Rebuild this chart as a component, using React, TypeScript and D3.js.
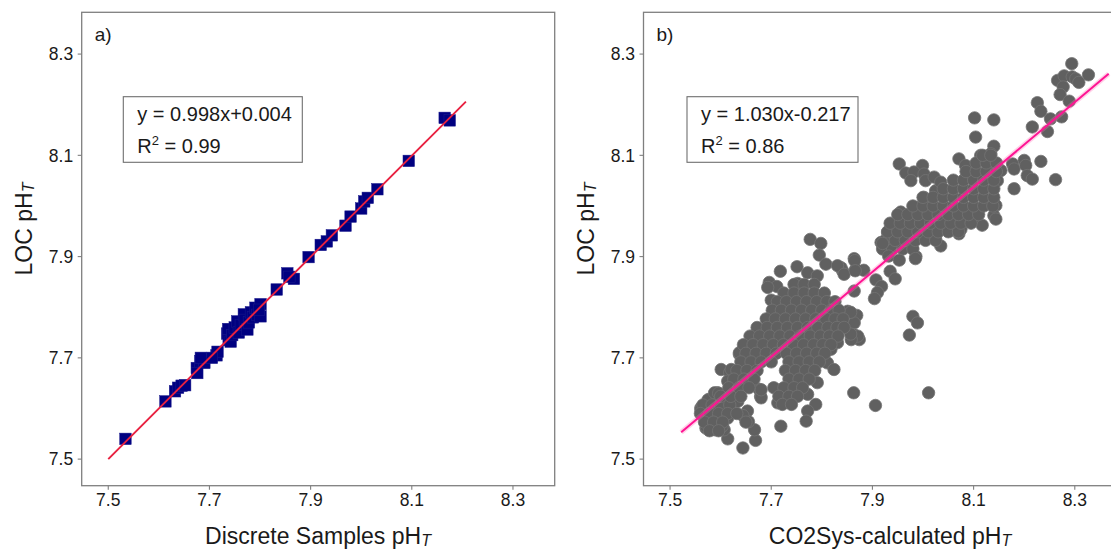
import React from 'react';
import * as d3 from 'd3';

// ---------------- DATA ----------------
const tickValues = [7.5, 7.7, 7.9, 8.1, 8.3];
const yDomain: [number, number] = [7.4475, 8.3825];
const xDomainA: [number, number] = [7.4475, 8.3825];
const xDomainB: [number, number] = [7.4475, 8.42];

const panelLabels = ['a)', 'b)'];
const xTitles = ['Discrete Samples pH', 'CO2Sys-calculated pH'];
const yTitle = 'LOC pH';
const equations = ['y = 0.998x+0.004', 'y = 1.030x-0.217'];
const r2Values = ['0.99', '0.86'];

// Panel a: discrete samples vs LOC pH
const discretePoints: [number, number][] = [
  [7.534, 7.540], [7.613, 7.614], [7.632, 7.634], [7.638, 7.641], [7.645, 7.645], [7.652, 7.646],
  [7.675, 7.680], [7.682, 7.693], [7.690, 7.690], [7.676, 7.670], [7.683, 7.700],
  [7.714, 7.705], [7.716, 7.712], [7.705, 7.700],
  [7.735, 7.748], [7.737, 7.757], [7.738, 7.735], [7.742, 7.732], [7.745, 7.745], [7.750, 7.760],
  [7.755, 7.772], [7.758, 7.750], [7.762, 7.765], [7.768, 7.786], [7.770, 7.775], [7.775, 7.756],
  [7.778, 7.770], [7.782, 7.790], [7.786, 7.780], [7.791, 7.799], [7.795, 7.785], [7.801, 7.806],
  [7.801, 7.782], [7.798, 7.795],
  [7.833, 7.835], [7.854, 7.867], [7.867, 7.856], [7.858, 7.860], [7.896, 7.899],
  [7.920, 7.923], [7.932, 7.930], [7.942, 7.942], [7.969, 7.961], [7.979, 7.979],
  [8.000, 7.995], [8.006, 8.009], [8.013, 8.016], [8.032, 8.033], [8.094, 8.089],
  [8.165, 8.174], [8.175, 8.169],
];

// Panel b: CO2Sys-calculated vs LOC pH
const co2sysPoints: [number, number][] = [
  // top right
  [8.294, 8.281], [8.327, 8.259], [8.266, 8.248], [8.279, 8.257], [8.295, 8.255], [8.302, 8.251],
  [8.308, 8.244], [8.277, 8.235], [8.271, 8.220], [8.289, 8.207], [8.226, 8.204], [8.233, 8.187],
  [8.252, 8.172], [8.274, 8.176], [8.216, 8.156], [8.246, 8.147],
  // around upper cluster
  [8.102, 8.174], [8.140, 8.170], [8.104, 8.136], [8.140, 8.118],
  [7.953, 8.083], [7.999, 8.080], [7.966, 8.065], [7.982, 8.067], [7.976, 8.050], [8.002, 8.063],
  [8.005, 8.050], [8.022, 8.057], [8.025, 8.030], [8.035, 8.047], [8.071, 8.093], [8.084, 8.080],
  [8.114, 8.100], [8.134, 8.103], [8.144, 8.083], [8.154, 8.070], [8.147, 8.050], [8.177, 8.083],
  [8.180, 8.073], [8.200, 8.090], [8.203, 8.080], [8.206, 8.060], [8.216, 8.053], [8.233, 8.088],
  [8.262, 8.052], [8.180, 8.034], [8.144, 8.001], [8.140, 7.981], [8.144, 7.974], [8.117, 7.962],
  [8.098, 7.974], [8.075, 7.954], [8.071, 7.945], [8.035, 7.921], [8.025, 7.935], [7.986, 7.900],
  [7.943, 7.964], [7.930, 7.948], [7.917, 7.928], [7.956, 7.988], [8.002, 8.017], [7.986, 7.997],
  // upper cluster body
  [7.920, 7.915], [7.940, 7.915], [7.960, 7.915], [7.980, 7.915],
  [7.925, 7.932], [7.945, 7.932], [7.965, 7.932], [7.985, 7.932], [8.005, 7.932], [8.025, 7.932],
  [7.930, 7.949], [7.950, 7.949], [7.970, 7.949], [7.990, 7.949], [8.010, 7.949], [8.030, 7.949], [8.050, 7.949], [8.070, 7.949],
  [7.935, 7.966], [7.955, 7.966], [7.975, 7.966], [7.995, 7.966], [8.015, 7.966], [8.035, 7.966], [8.055, 7.966], [8.075, 7.966], [8.095, 7.966],
  [7.950, 7.983], [7.970, 7.983], [7.990, 7.983], [8.010, 7.983], [8.030, 7.983], [8.050, 7.983], [8.070, 7.983], [8.090, 7.983], [8.110, 7.983],
  [7.980, 8.000], [8.000, 8.000], [8.020, 8.000], [8.040, 8.000], [8.060, 8.000], [8.080, 8.000], [8.100, 8.000], [8.120, 8.000], [8.138, 8.000],
  [8.000, 8.017], [8.020, 8.017], [8.040, 8.017], [8.060, 8.017], [8.080, 8.017], [8.100, 8.017], [8.120, 8.017], [8.140, 8.017],
  [8.040, 8.034], [8.060, 8.034], [8.080, 8.034], [8.100, 8.034], [8.120, 8.034], [8.140, 8.034],
  [8.060, 8.051], [8.080, 8.051], [8.100, 8.051], [8.120, 8.051], [8.140, 8.051],
  [8.085, 8.068], [8.105, 8.068], [8.125, 8.068], [8.145, 8.068],
  [8.105, 8.085], [8.125, 8.085], [8.145, 8.085],
  [8.118, 8.100], [8.134, 8.100],
  // middle, between clusters
  [7.920, 7.926], [7.864, 7.896], [7.867, 7.875], [7.883, 7.873], [7.932, 7.901], [7.953, 7.893],
  [7.935, 7.871], [7.945, 7.856], [7.985, 7.896], [7.907, 7.854], [7.918, 7.841], [7.910, 7.829],
  [7.904, 7.817], [7.864, 7.832], [7.851, 7.792], [7.869, 7.784], [7.864, 7.769], [7.863, 7.746],
  [7.874, 7.736], [7.841, 7.872],
  // outliers
  [7.980, 7.782], [7.989, 7.769], [7.973, 7.745], [7.863, 7.631], [7.906, 7.606], [8.011, 7.631],
  // around main cluster
  [7.777, 7.934], [7.798, 7.926], [7.795, 7.903], [7.808, 7.885], [7.751, 7.880], [7.718, 7.871],
  [7.772, 7.868], [7.838, 7.878], [7.696, 7.849], [7.711, 7.841], [7.693, 7.839], [7.752, 7.847],
  [7.700, 7.814], [7.739, 7.822], [7.871, 7.743], [7.858, 7.736], [7.831, 7.882], [7.844, 7.865],
  [7.791, 7.862], [7.865, 7.892], [7.866, 7.872], [7.857, 7.790], [7.857, 7.747],
  [7.673, 7.753], [7.637, 7.707], [7.653, 7.720], [7.601, 7.677], [7.618, 7.671], [7.676, 7.638],
  [7.679, 7.624], [7.713, 7.611], [7.732, 7.624], [7.772, 7.628], [7.788, 7.608], [7.772, 7.595],
  [7.768, 7.667], [7.791, 7.651], [7.811, 7.690], [7.824, 7.677], [7.818, 7.717], [7.831, 7.730],
  [7.653, 7.595], [7.561, 7.601], [7.577, 7.618], [7.594, 7.631], [7.614, 7.624], [7.769, 7.575],
  // lower-left cluster
  [7.644, 7.522], [7.669, 7.537], [7.667, 7.558], [7.655, 7.574], [7.644, 7.586], [7.614, 7.540],
  [7.607, 7.558], [7.571, 7.561], [7.588, 7.558], [7.561, 7.598], [7.575, 7.617], [7.588, 7.631],
  [7.614, 7.581], [7.598, 7.578], [7.581, 7.584], [7.719, 7.565], [7.680, 7.621], [7.680, 7.637],
  [7.621, 7.650], [7.621, 7.677], [7.637, 7.710], [7.655, 7.720], [7.640, 7.677], [7.647, 7.657],
  [7.630, 7.631], [7.634, 7.614], [7.611, 7.614], [7.601, 7.598], [7.596, 7.630], [7.614, 7.654],
  [7.572, 7.563], [7.593, 7.561], [7.603, 7.565],
  [7.565, 7.607], [7.583, 7.607], [7.600, 7.607], [7.618, 7.607],
  [7.560, 7.590], [7.578, 7.590], [7.596, 7.590], [7.614, 7.590], [7.632, 7.590],
  [7.568, 7.573], [7.586, 7.573], [7.604, 7.573], [7.650, 7.573],
  [7.578, 7.556], [7.596, 7.556],
  // main cluster body
  [7.745, 7.845], [7.765, 7.845], [7.785, 7.845],
  [7.725, 7.828], [7.745, 7.828], [7.765, 7.828], [7.785, 7.828], [7.805, 7.828],
  [7.712, 7.811], [7.730, 7.811], [7.750, 7.811], [7.770, 7.811], [7.790, 7.811], [7.810, 7.811], [7.826, 7.811],
  [7.702, 7.794], [7.720, 7.794], [7.740, 7.794], [7.760, 7.794], [7.780, 7.794], [7.800, 7.794], [7.818, 7.794], [7.834, 7.794],
  [7.690, 7.777], [7.708, 7.777], [7.728, 7.777], [7.748, 7.777], [7.768, 7.777], [7.788, 7.777], [7.808, 7.777], [7.826, 7.777], [7.842, 7.777],
  [7.672, 7.760], [7.692, 7.760], [7.712, 7.760], [7.732, 7.760], [7.752, 7.760], [7.772, 7.760], [7.792, 7.760], [7.812, 7.760], [7.830, 7.760], [7.844, 7.760],
  [7.658, 7.743], [7.677, 7.743], [7.697, 7.743], [7.717, 7.743], [7.737, 7.743], [7.757, 7.743], [7.777, 7.743], [7.797, 7.743], [7.815, 7.743], [7.832, 7.743],
  [7.645, 7.726], [7.664, 7.726], [7.684, 7.726], [7.704, 7.726], [7.724, 7.726], [7.744, 7.726], [7.764, 7.726], [7.784, 7.726], [7.802, 7.726], [7.818, 7.726],
  [7.650, 7.709], [7.670, 7.709], [7.690, 7.709], [7.710, 7.709], [7.730, 7.709], [7.750, 7.709], [7.770, 7.709], [7.790, 7.709], [7.806, 7.709],
  [7.640, 7.692], [7.660, 7.692], [7.680, 7.692], [7.700, 7.692], [7.735, 7.692], [7.755, 7.692], [7.775, 7.692], [7.795, 7.692],
  [7.632, 7.675], [7.652, 7.675], [7.672, 7.675], [7.728, 7.675], [7.748, 7.675], [7.768, 7.675], [7.786, 7.675],
  [7.626, 7.658], [7.646, 7.658], [7.666, 7.658], [7.735, 7.658], [7.755, 7.658], [7.775, 7.658],
  [7.616, 7.641], [7.636, 7.641], [7.656, 7.641], [7.705, 7.641], [7.725, 7.641], [7.745, 7.641], [7.762, 7.641],
  [7.600, 7.624], [7.620, 7.624], [7.640, 7.624], [7.715, 7.624], [7.735, 7.624], [7.752, 7.624],
  [7.722, 7.608], [7.740, 7.608],
];

// fitted lines (end points as drawn)
const fitLineA: [number, number][] = [[7.5, 7.5], [8.207, 8.206]];
const fitLineB: [number, number][] = [[7.522, 7.553], [8.367, 8.261]];

// ---------------- LAYOUT ----------------
const TOP = 12.3;
const BOTTOM = 485.7;
const panels = [
  { left: 81.7, right: 554.7, xDomain: xDomainA, box: [123.3, 96.7, 179, 65.6], titleX: 318 },
  { left: 643.5, right: 1135.5, xDomain: xDomainB, box: [687, 96.7, 171, 65.6], titleX: 890 },
];

const FONT = '"Liberation Sans", Arial, sans-serif';
const TEXT_COLOR = '#1a1a1a';

function SText(props: {
  x: number; y: number; size: number; anchor?: string; rotate?: boolean;
  children: React.ReactNode; fill?: string;
}) {
  const { x, y, size, anchor = 'start', rotate = false, children, fill = TEXT_COLOR } = props;
  return (
    <text
      transform={`translate(${x},${y})${rotate ? ' rotate(-90)' : ''}`}
      fontFamily={FONT}
      fontSize={size}
      textAnchor={anchor}
      fill={fill}
    >
      {children}
    </text>
  );
}

function Panel({ idx }: { idx: number }) {
  const p = panels[idx];
  const xs = d3.scaleLinear().domain(p.xDomain).range([p.left, p.right]);
  const ys = d3.scaleLinear().domain(yDomain).range([BOTTOM, TOP]);
  const line = d3.line<[number, number]>().x((d) => xs(d[0])).y((d) => ys(d[1]));
  const clipId = `clip${idx}`;
  const [bx, by, bw, bh] = p.box;
  const sq = 11.5;

  return (
    <g>
      <defs>
        <clipPath id={clipId}>
          <rect x={p.left} y={TOP} width={p.right - p.left} height={BOTTOM - TOP} />
        </clipPath>
      </defs>
      <g clipPath={`url(#${clipId})`}>
        {idx === 0 &&
          discretePoints.map((d, i) => (
            <rect key={i} x={xs(d[0]) - sq / 2} y={ys(d[1]) - sq / 2} width={sq} height={sq}
              fill="#000080" stroke="#1a1a8c" strokeWidth={0.5} />
          ))}
        {idx === 0 && (
          <path d={line(fitLineA) || ''} stroke="#e8203f" strokeWidth={1.9} fill="none" />
        )}
        {idx === 1 &&
          co2sysPoints.map((d, i) => (
            <circle key={i} cx={xs(d[0])} cy={ys(d[1])} r={6.2}
              fill="#606060" stroke="#737373" strokeWidth={0.8} />
          ))}
        {idx === 1 && (
          <g>
            <path d={line(fitLineB) || ''} stroke="#ff69b4" strokeOpacity={0.3} strokeWidth={5} fill="none" />
            <path d={line(fitLineB) || ''} stroke="#ff1493" strokeWidth={2} fill="none" />
          </g>
        )}
      </g>

      {/* frame */}
      <rect x={p.left} y={TOP} width={p.right - p.left} height={BOTTOM - TOP}
        fill="none" stroke="#7f7f7f" strokeWidth={1.3} />

      {/* ticks */}
      {tickValues.map((t) => (
        <g key={'x' + t}>
          <line x1={xs(t)} x2={xs(t)} y1={BOTTOM} y2={BOTTOM + 4} stroke="#7f7f7f" strokeWidth={1.1} />
          <SText x={xs(t)} y={506} size={17.5} anchor="middle">{t.toFixed(1)}</SText>
        </g>
      ))}
      {tickValues.map((t) => (
        <g key={'y' + t}>
          <line x1={p.left - 4} x2={p.left} y1={ys(t)} y2={ys(t)} stroke="#7f7f7f" strokeWidth={1.1} />
          <SText x={p.left - 8.5} y={ys(t) + 6.3} size={17.5} anchor="end">{t.toFixed(1)}</SText>
        </g>
      ))}

      {/* panel label */}
      <SText x={p.left + 13} y={41} size={19}>{panelLabels[idx]}</SText>

      {/* equation box */}
      <rect x={bx} y={by} width={bw} height={bh} fill="#ffffff" stroke="#6f6f6f" strokeWidth={1.1} />
      <SText x={bx + 14} y={by + 24} size={20}>{equations[idx]}</SText>
      <SText x={bx + 14} y={by + 56.6} size={20}>
        <tspan>R</tspan>
        <tspan fontSize={13} dy={-8}>2</tspan>
        <tspan dy={8}>{' = ' + r2Values[idx]}</tspan>
      </SText>

      {/* axis titles */}
      <SText x={p.titleX} y={544} size={23} anchor="middle">
        <tspan>{xTitles[idx]}</tspan>
        <tspan fontSize={16} fontStyle="italic" dy={2}>T</tspan>
      </SText>
      <SText x={p.left - 50} y={229} size={23} anchor="middle" rotate>
        <tspan>{yTitle}</tspan>
        <tspan fontSize={16} fontStyle="italic" dy={2}>T</tspan>
      </SText>
    </g>
  );
}

export default function App() {
  return (
    <svg
      width={1111}
      height={549}
      style={{ position: 'absolute', left: 0, top: 0, background: '#ffffff', display: 'block' }}
    >
      <rect x={0} y={0} width={1111} height={549} fill="#ffffff" />
      <Panel idx={0} />
      <Panel idx={1} />
    </svg>
  );
}
